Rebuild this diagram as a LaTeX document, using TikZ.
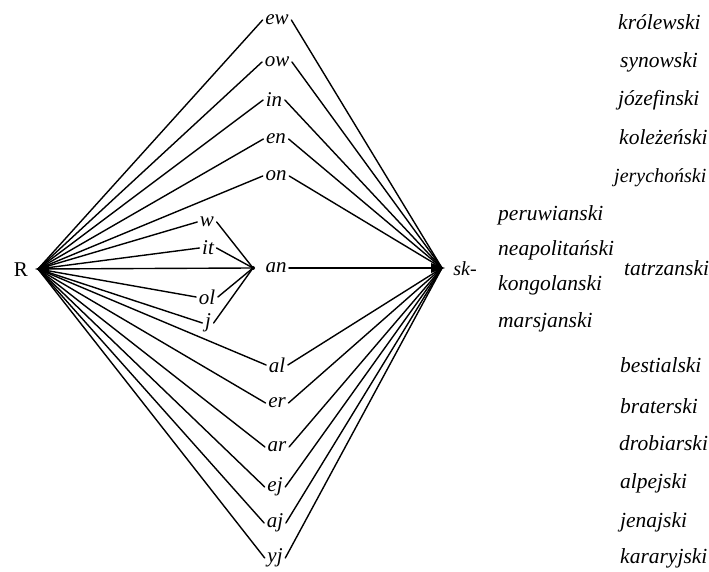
\documentclass[tikz,border=0pt]{standalone}
\usepackage{fontspec}
\setmainfont{Liberation Serif}
\begin{document}
\begin{tikzpicture}[x=1pt,y=1pt,
  suf/.style={inner sep=2.5pt,font=\fontsize{21}{24}\selectfont\itshape},
  word/.style={inner sep=0pt,anchor=west,font=\fontsize{21.5}{24}\selectfont\itshape},
  edge/.style={line width=1.4pt,line cap=round}]
\useasboundingbox (0,0) rectangle (709,572);
\coordinate (Rv) at (38,303);
\coordinate (Sv) at (442,304);
\coordinate (Av) at (253,304);
\node[inner sep=0pt,font=\fontsize{21}{24}\selectfont] (R) at (21,302) {R};
\node[inner sep=0pt,font=\fontsize{20}{24}\selectfont\itshape] (sk) at (465,303) {sk-};
% outer suffixes
\node[suf] (ew) at (277,552) {ew};
\node[suf] (ow) at (277,510) {ow};
\node[suf] (in) at (274,472) {in};
\node[suf] (en) at (276,433) {en};
\node[suf] (on) at (276,396) {on};
\node[suf] (an) at (276,304) {an};
\node[suf] (al) at (277,207) {al};
\node[suf] (er) at (277,169) {er};
\node[suf] (ar) at (277,125) {ar};
\node[suf] (ej) at (275,85) {ej};
\node[suf] (aj) at (275,49) {aj};
\node[suf] (yj) at (275,14) {yj};
% inner suffixes
\node[suf] (w) at (207,350) {w};
\node[suf] (it) at (208,324) {it};
\node[suf] (ol) at (207,275) {ol};
\node[suf] (j) at (208,249) {j};
\foreach \s in {ew,ow,in,en,on,al,er,ar,ej,aj,yj}{
  \draw[edge] (Rv) -- (\s.west);
  \draw[edge] (\s.east) -- (Sv);
}
\foreach \s in {w,it,ol,j}{
  \draw[edge] (Rv) -- (\s.west);
  \draw[edge] (\s.east) -- (Av);
}
\draw[edge] (Rv) -- (Av);
\draw[edge,line width=2pt] (an.east) -- (Sv);
\fill (Rv) ++(-3,0) -- ++(14,5) -- ++(0,-10) -- cycle;
\fill (Sv) ++(3,0) -- ++(-14,5) -- ++(0,-10) -- cycle;
\fill (Av) circle (2);
% words
\node[word] (w1) at (618,550) {królewski};
\node[word] (w2) at (620,510) {synowski};
\node[word] (w3) at (618,472) {józefinski};
\node[word] (w4) at (619,435) {koleżeński};
\node[word,font=\fontsize{20}{24}\selectfont\itshape] (w5) at (614,394) {jerychoński};
\node[word] (w6) at (498,357) {peruwianski};
\node[word] (w7) at (498,322) {neapolitański};
\node[word] (w8) at (498,287) {kongolanski};
\node[word] (w9) at (498,250) {marsjanski};
\node[word] (w10) at (624,304) {tatrzanski};
\node[word] (w11) at (620,207) {bestialski};
\node[word] (w12) at (620,166) {braterski};
\node[word] (w13) at (619,129) {drobiarski};
\node[word] (w14) at (620,89) {alpejski};
\node[word] (w15) at (620,50) {jenajski};
\node[word] (w16) at (620,14) {kararyjski};
\end{tikzpicture}
\end{document}
